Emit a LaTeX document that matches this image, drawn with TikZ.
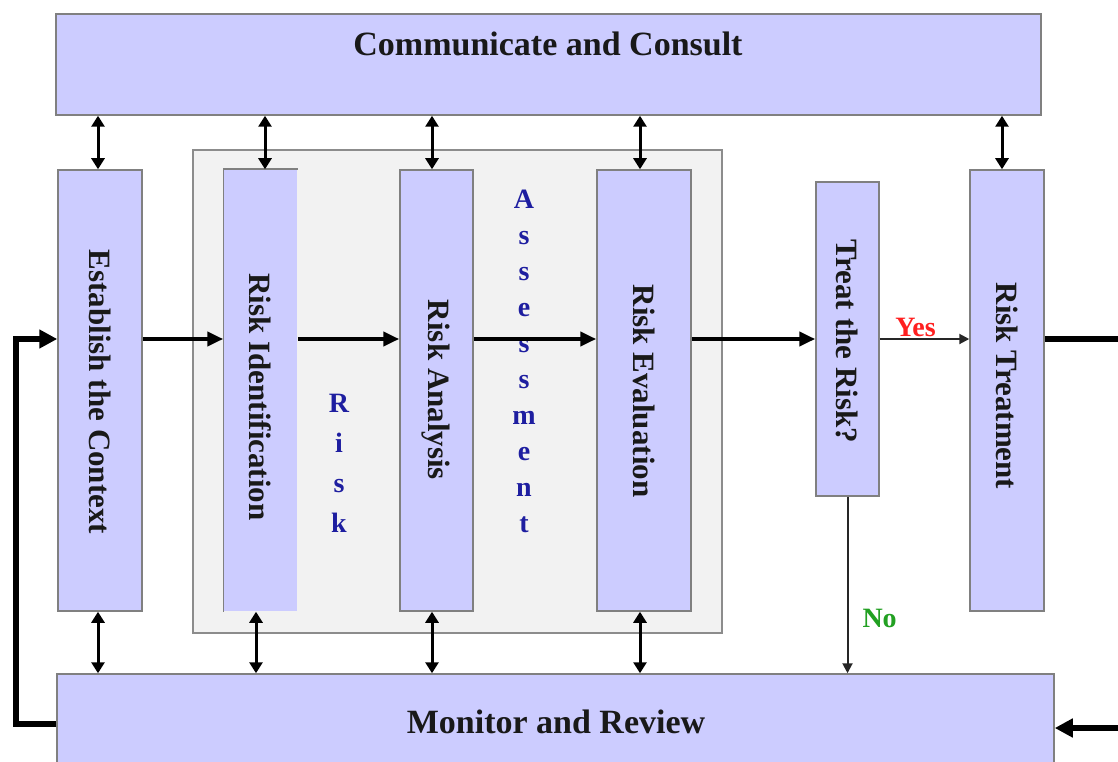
\documentclass[tikz,border=0pt]{standalone}
\usepackage{fontspec}
\setmainfont{Liberation Serif}
\usetikzlibrary{arrows.meta,calc}
\definecolor{boxfill}{HTML}{CCCCFF}
\definecolor{boxline}{HTML}{808080}
\definecolor{greyfill}{HTML}{F2F2F2}
\definecolor{greyline}{HTML}{8C8C8C}
\definecolor{darkblue}{RGB}{30,30,160}
\definecolor{yesred}{HTML}{FF2020}
\definecolor{nogreen}{HTML}{22A022}
\begin{document}
\begin{tikzpicture}[x=1pt,y=-1pt,
  box/.style={draw=boxline, line width=1.5pt, fill=boxfill, inner sep=0pt},
  vtext/.style={rotate=-90, font=\fontsize{31}{31}\selectfont\bfseries, text=black!90, inner sep=0pt},
  htext/.style={font=\fontsize{34}{34}\selectfont\bfseries, text=black!90, inner sep=0pt},
  mainarrow/.style={line width=4pt, -{Triangle[length=16pt,width=14pt]}},
  dblarrow/.style={line width=3pt, {Triangle[length=11pt,width=13pt]}-{Triangle[length=11pt,width=13pt]}},
  thinarrow/.style={line width=2pt, draw=black!85, -{Triangle[length=10pt,width=10pt]}},
  looparrow/.style={line width=6pt, -{Triangle[length=18pt,width=18pt]}},
  bigletters/.style={font=\fontsize{28}{40}\selectfont\bfseries, text=darkblue, align=center, inner sep=0pt},
]
\useasboundingbox (0,0) rectangle (1118,762);
\clip (0,0) rectangle (1118,762);
\fill[white] (0,0) rectangle (1118,762);

% risk assessment frame
\node[box, fill=greyfill, draw=greyline, minimum width=529pt, minimum height=483pt] (ra) at (457.5,391.5) {};

% top and bottom bars
\node[box, minimum width=985pt, minimum height=101pt] (cc) at (548.5,64.5) {};
\node[htext] (ccT) at (548,44) {Communicate and Consult};
\node[box, minimum width=997pt, minimum height=100pt] (mr) at (555.5,724) {};
\node[htext] (mrT) at (556,722) {Monitor and Review};

% vertical boxes
\node[box, minimum width=84pt, minimum height=441pt] (est) at (100,390.5) {};
\node[vtext] (estT) at (100,392) {Establish the Context};
\node[box, draw=none, minimum width=73pt, minimum height=441pt] (rid) at (260.5,390.5) {};
\draw[boxline, line width=1.5pt] (rid.south west) -- (rid.north west) -- (rid.north east);
\node[vtext] (ridT) at (260,397) {Risk Identification};
\node[box, minimum width=73pt, minimum height=441pt] (ran) at (436.5,390.5) {};
\node[vtext] (ranT) at (436,390) {Risk Analysis};
\node[box, minimum width=94pt, minimum height=441pt] (rev) at (644,390.5) {};
\node[vtext] (revT) at (644,391) {Risk Evaluation};
\node[box, minimum width=63pt, minimum height=314pt] (trq) at (847.5,339) {};
\node[vtext] (trqT) at (847,341) {Treat the Risk?};
\node[box, minimum width=74pt, minimum height=441pt] (rtr) at (1007,390.5) {};
\node[vtext] (rtrT) at (1007,386) {Risk Treatment};

% Risk Assessment letters
\node[bigletters] (wRisk) at (339,463) {R\\i\\s\\k};
\node[bigletters, font=\fontsize{28}{36}\selectfont\bfseries] (wAss) at (524,361) {A\\s\\s\\e\\s\\s\\m\\e\\n\\t};

% main flow
\draw[mainarrow] (est.east |- trq) -- (rid.west |- trq);
\draw[mainarrow] (rid.east |- trq) -- (ran.west |- trq);
\draw[mainarrow] (ran.east |- trq) -- (rev.west |- trq);
\draw[mainarrow] (rev.east |- trq) -- (trq.west);
\draw[thinarrow] (trq.east) -- (rtr.west |- trq)
  node[midway, above=1pt, xshift=-9pt, text=yesred, font=\fontsize{28}{28}\selectfont\bfseries, inner sep=0pt] (yesT) {Yes};
\draw[thinarrow] (trq.south) -- (trq.south |- mr.north)
  node[pos=0.69, right=14pt, text=nogreen, font=\fontsize{28}{28}\selectfont\bfseries, inner sep=0pt] (noT) {No};

% communicate links
\draw[dblarrow] ([xshift=-2pt]est.north |- cc.south) -- ([xshift=-2pt]est.north);
\draw[dblarrow] ([xshift=4.5pt]rid.north |- cc.south) -- ([xshift=4.5pt]rid.north);
\draw[dblarrow] ([xshift=-4.5pt]ran.north |- cc.south) -- ([xshift=-4.5pt]ran.north);
\draw[dblarrow] ([xshift=-4pt]rev.north |- cc.south) -- ([xshift=-4pt]rev.north);
\draw[dblarrow] ([xshift=-5pt]rtr.north |- cc.south) -- ([xshift=-5pt]rtr.north);

% monitor links
\draw[dblarrow] ([xshift=-2pt]est.south) -- ([xshift=-2pt]est.south |- mr.north);
\draw[dblarrow] ([xshift=-4.5pt]rid.south) -- ([xshift=-4.5pt]rid.south |- mr.north);
\draw[dblarrow] ([xshift=-4.5pt]ran.south) -- ([xshift=-4.5pt]ran.south |- mr.north);
\draw[dblarrow] ([xshift=-4pt]rev.south) -- ([xshift=-4pt]rev.south |- mr.north);

% loops
\coordinate (offL) at (16,0);
\coordinate (offR) at (1135,0);
\draw[looparrow] (mr.west) -- (offL |- mr.west) -- (offL |- trq) -- (est.west |- trq);
\draw[looparrow] (rtr.east |- trq) -- (offR |- trq) -- (offR |- 0,728) -- ([yshift=-4pt]mr.east);
\end{tikzpicture}
\end{document}
